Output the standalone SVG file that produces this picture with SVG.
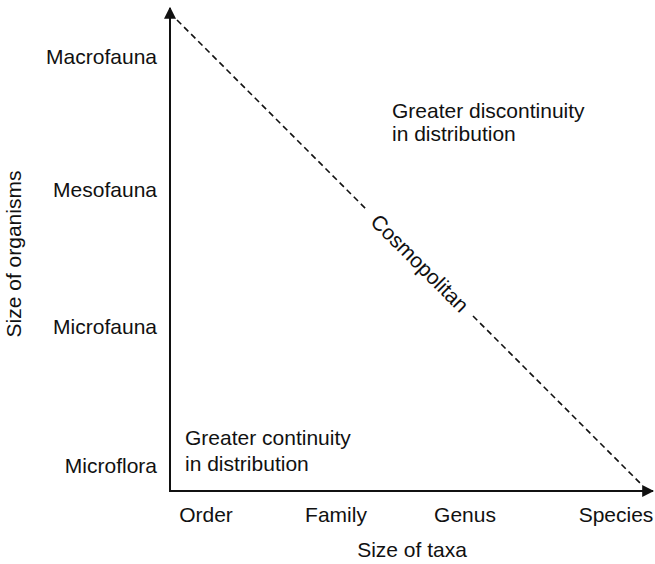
<svg xmlns="http://www.w3.org/2000/svg" width="655" height="564" viewBox="0 0 655 564">
<style>
text{font-family:"Liberation Sans",Arial,sans-serif;font-size:21px;fill:#111}
.ax{stroke:#111;stroke-width:2;fill:none}
.dash{stroke:#111;stroke-width:1.6;stroke-dasharray:6 4;fill:none}
.r{text-anchor:end}.m{text-anchor:middle}
</style>
<defs>
<marker id="ah" viewBox="0 0 10 10" refX="9" refY="5" markerWidth="12" markerHeight="12" markerUnits="userSpaceOnUse" orient="auto">
<path d="M0,0 L10,5 L0,10 z" fill="#111"/>
</marker>
</defs>
<g id="connectors">
<path class="ax" d="M170,491 L170,8" marker-end="url(#ah)"/>
<path class="ax" d="M169,491 L653,491" marker-end="url(#ah)"/>
<path class="dash" d="M177,20 L367,210"/>
<path class="dash" d="M473,316 L641,484"/>
</g>
<g id="y-labels">
<text class="r" x="157" y="64">Macrofauna</text>
<text class="r" x="157" y="197">Mesofauna</text>
<text class="r" x="157" y="334">Microfauna</text>
<text class="r" x="157" y="473">Microflora</text>
<text class="m" transform="translate(21,254) rotate(-90)">Size of organisms</text>
</g>
<g id="x-labels">
<text class="m" x="206" y="522">Order</text>
<text class="m" x="336" y="522">Family</text>
<text class="m" x="465" y="522">Genus</text>
<text class="m" x="616" y="522">Species</text>
<text class="m" x="412" y="557">Size of taxa</text>
</g>
<g id="regions">
<text x="392" y="118">Greater discontinuity</text>
<text x="392" y="141">in distribution</text>
<text x="185" y="445">Greater continuity</text>
<text x="185" y="471">in distribution</text>
</g>
<g id="cosmopolitan">
<text class="m" transform="translate(420,263) rotate(45)" dominant-baseline="central">Cosmopolitan</text>
</g>
</svg>
